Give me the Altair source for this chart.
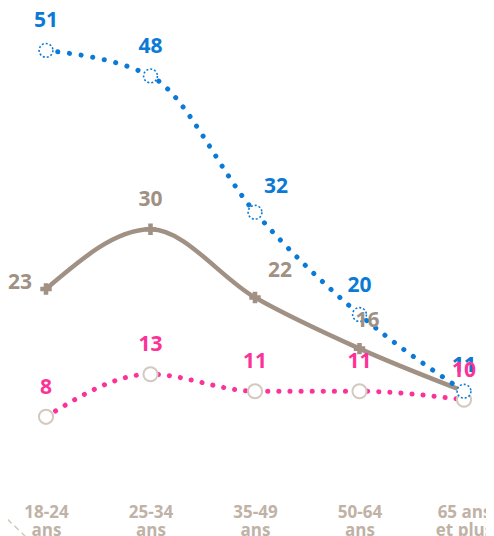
import altair as alt
import pandas as pd

categories = ["18-24 ans", "25-34 ans", "35-49 ans", "50-64 ans", "65 ans et plus"]
series_names = ["blue", "gray", "pink"]
blue_values = [51, 48, 32, 20, 11]
gray_values = [23, 30, 22, 16, 11]
pink_values = [8, 13, 11, 11, 10]

BLUE = "#0a7ad6"
GRAY = "#a09184"
PINK = "#fb3399"
BEIGE = "#d3c9bf"
AXIS = "#bfb2a6"
FONT = "Open Sans"
NB = "\u00a0\u00a0\u00a0"

rows = []
for s, vals in zip(series_names, [blue_values, gray_values, pink_values]):
    for i, (c, v) in enumerate(zip(categories, vals)):
        rows.append({"series": s, "cat": c, "idx": i, "value": v})
df = pd.DataFrame(rows)

label_expr = ("datum.label == '65 ans et plus' ? ['65 ans" + NB + "', 'et plus" + NB + "'] "
              ": split(datum.label, ' ')")

x = alt.X("cat:N", sort=categories,
          scale=alt.Scale(type="point", range=[38, 456], padding=0),
          axis=alt.Axis(title=None, domain=False, ticks=False, grid=False,
                        labelAngle=0, labelFont=FONT, labelFontSize=17,
                        labelFontWeight="bold", labelColor=AXIS,
                        labelPadding=27, labelLineHeight=18,
                        labelBaseline="middle", labelExpr=label_expr))
y = alt.Y("value:Q", scale=alt.Scale(domain=[0, 55.5], nice=False, zero=True), axis=None)

base = alt.Chart(df).encode(x=x, y=y)

def sel(s):
    return base.transform_filter(alt.datum.series == s)

gray_line = sel("gray").mark_line(interpolate="monotone", color=GRAY, strokeWidth=4.5)
pink_line = sel("pink").mark_line(interpolate="monotone", color=PINK, strokeWidth=5,
                                  strokeDash=[0.1, 11], strokeCap="round")
blue_line = sel("blue").mark_line(interpolate="monotone", color=BLUE, strokeWidth=5,
                                  strokeDash=[0.1, 11.7], strokeCap="round")

gray_pts = sel("gray").mark_point(shape="cross", filled=True, color=GRAY, size=130, opacity=1)
pink_pts = sel("pink").mark_point(shape="circle", filled=False, fill="white", fillOpacity=1,
                                  stroke=BEIGE, strokeWidth=2, size=200, opacity=1)
blue_pts = sel("blue").mark_point(shape="circle", filled=False, fill="white", fillOpacity=1,
                                  stroke=BLUE, strokeWidth=1.6, strokeDash=[2, 2],
                                  size=190, opacity=1)

def labels(s, color, cond, dx=0, dy=-29):
    return sel(s).transform_filter(cond).mark_text(
        font=FONT, fontSize=21, fontWeight="bold", color=color,
        align="center", baseline="middle", dx=dx, dy=dy
    ).encode(text="value:Q")

gray_lab = alt.layer(
    labels("gray", GRAY, "datum.idx == 1"),
    labels("gray", GRAY, "datum.idx == 0", dx=-26, dy=-6),
    labels("gray", GRAY, "datum.idx == 2", dx=25, dy=-27),
    labels("gray", GRAY, "datum.idx == 3", dx=8, dy=-28),
    labels("gray", GRAY, "datum.idx == 4", dy=-25),
)
blue_lab = alt.layer(
    labels("blue", BLUE, "datum.idx == 0 || datum.idx == 1 || datum.idx == 3"),
    labels("blue", BLUE, "datum.idx == 2", dx=21, dy=-25),
    labels("blue", BLUE, "datum.idx == 4", dy=-25),
)
pink_lab = labels("pink", PINK, "true")

deco = alt.Chart(pd.DataFrame({"a": [0]})).mark_rule(
    color=BEIGE, strokeWidth=1.5, strokeDash=[6, 4]
).encode(x=alt.value(-8), x2=alt.value(20), y=alt.value(500), y2=alt.value(527))

chart = alt.layer(
    gray_line, pink_line, blue_line,
    gray_pts, pink_pts, blue_pts,
    gray_lab, blue_lab, pink_lab, deco
).properties(
    width=470, height=473,
    autosize=alt.AutoSizeParams(type="none"),
    padding={"left": 0, "top": 4, "right": 8, "bottom": 51},
).configure_view(stroke=None)

chart.save("out.html", embed_options={"renderer": "svg", "actions": False})
